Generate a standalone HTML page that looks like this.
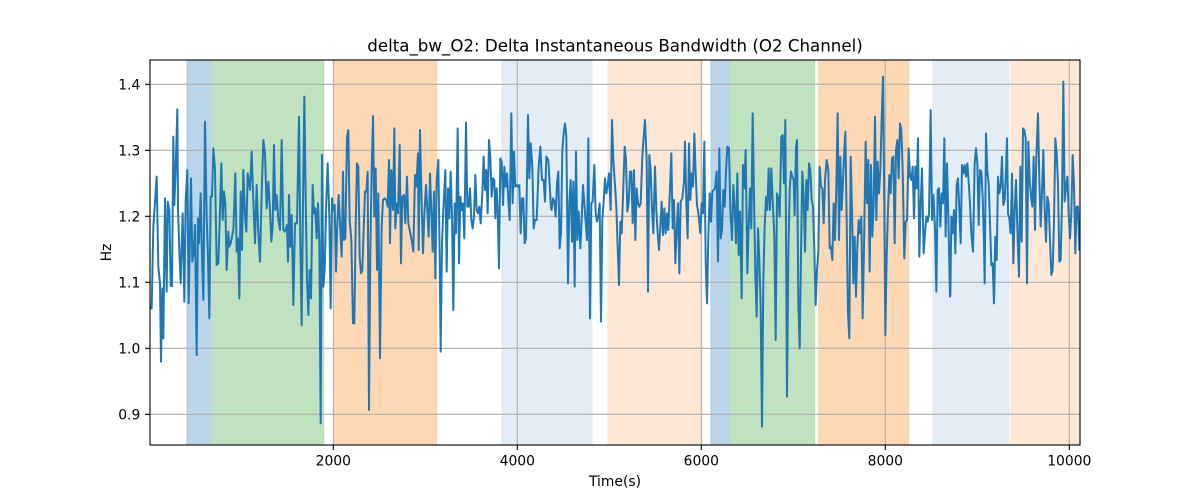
<!DOCTYPE html>
<html>
<head>
<meta charset="utf-8">
<style>
  html, body { margin: 0; padding: 0; background: #ffffff; }
  svg { display: block; }
  text { font-family: "DejaVu Sans", "Liberation Sans", sans-serif; fill: #000; }
</style>
</head>
<body>
<svg width="1200" height="500" viewBox="0 0 1200 500" xmlns="http://www.w3.org/2000/svg">
  <rect x="0" y="0" width="1200" height="500" fill="#ffffff"/>
  <defs>
    <clipPath id="ax">
      <rect x="150" y="60" width="930" height="385"/>
    </clipPath>
  </defs>

  <!-- spans -->
  <g>
    <rect x="187" y="60" width="23.7" height="385" fill="#bad4e9" stroke="#aecde6" stroke-width="1"/>
    <rect x="212" y="60" width="111.7" height="385" fill="#c0e2c0" stroke="#b2dcb2" stroke-width="1"/>
    <rect x="333.7" y="60" width="103" height="385" fill="#fed8b5" stroke="#fdd0a6" stroke-width="1"/>
    <rect x="502" y="60" width="90" height="385" fill="#e4ecf6" stroke="#dde8f3" stroke-width="1"/>
    <rect x="608" y="60" width="94" height="385" fill="#fee8d5" stroke="#fde3cc" stroke-width="1"/>
    <rect x="711" y="60" width="18.7" height="385" fill="#bad4e9" stroke="#aecde6" stroke-width="1"/>
    <rect x="731" y="60" width="83.7" height="385" fill="#c0e2c0" stroke="#b2dcb2" stroke-width="1"/>
    <rect x="818.7" y="60" width="90" height="385" fill="#fed8b5" stroke="#fdd0a6" stroke-width="1"/>
    <rect x="933" y="60" width="76" height="385" fill="#e4ecf6" stroke="#dde8f3" stroke-width="1"/>
    <rect x="1011" y="60" width="69" height="385" fill="#fee8d5" stroke="#fde3cc" stroke-width="1"/>
  </g>

  <!-- grid -->
  <g stroke="#b0b0b0" stroke-width="1.1">
    <line x1="333.3" y1="60" x2="333.3" y2="445"/>
    <line x1="517.3" y1="60" x2="517.3" y2="445"/>
    <line x1="701.3" y1="60" x2="701.3" y2="445"/>
    <line x1="885.3" y1="60" x2="885.3" y2="445"/>
    <line x1="1069.3" y1="60" x2="1069.3" y2="445"/>
    <line x1="150" y1="84.3" x2="1080" y2="84.3"/>
    <line x1="150" y1="150.3" x2="1080" y2="150.3"/>
    <line x1="150" y1="216.3" x2="1080" y2="216.3"/>
    <line x1="150" y1="282.3" x2="1080" y2="282.3"/>
    <line x1="150" y1="348.3" x2="1080" y2="348.3"/>
    <line x1="150" y1="414.3" x2="1080" y2="414.3"/>
  </g>

  <!-- data line -->
  <g clip-path="url(#ax)">
    <g transform="translate(150,70) scale(0.3333333)">
      <polyline vector-effect="non-scaling-stroke" fill="none" stroke="#1f77b4" stroke-width="2" stroke-linejoin="round" stroke-linecap="butt"
        points="0,715 5,715 10,470 20,320 25,590 30,640 33,875 37,655 40,805 45,385 50,665 53,395 58,420 62,648 66,648 70,200 73,405 77,300 82,118 84,420 88,540 92,640 98,430 103,695 107,390 112,300 116,700 123,325 127,575 131,550 135,465 140,855 144,445 147,520 152,370 156,560 160,690 165,155 170,440 174,560 178,745 182,380 186,380 190,235 195,300 200,585 205,580 210,420 214,280 218,450 222,365 226,400 230,600 235,485 238,530 242,520 246,500 250,480 256,310 260,545 264,505 268,685 272,365 276,540 280,300 285,435 289,485 293,310 297,340 300,360 305,245 310,390 315,520 320,345 325,490 330,575 335,370 340,210 345,250 350,415 355,335 360,420 364,515 368,470 372,225 376,420 380,375 385,450 390,480 395,210 400,480 404,485
407,480 411,465 414,575 417,375 421,530 425,435 430,705 435,460 441,460 447,140 451,520 455,765 459,400 463,80 467,380 471,630 475,735 479,600 483,685 488,345 492,430 496,415 500,505 504,400 508,520 512,1060 516,255 520,650 524,600 529,390 533,280 538,440 542,715 546,385 550,420 554,405 558,605 562,460 566,375 571,480 575,560 579,305 582,510 586,505 591,200 595,180 599,450 604,510 609,760 613,760 617,470 621,280 625,290 629,560 633,610 637,600 641,480 645,365 649,365 653,305 657,1020 661,540 665,300 669,138 673,440 677,295 681,600 685,370 690,865 695,470 699,390 704,385 709,390 713,410 717,270 720,520 724,300 729,420 733,175 736,475 740,400 744,430 749,225 753,580 757,380 762,375 766,460 771,320 775,460 779,480 785,510 790,545 795,315 799,350 804,250
806,540 810,180 814,360 819,550 823,435 828,345 832,420 836,500 840,310 844,420 848,545 852,365 856,625 860,330 865,270 869,560 872,845 876,520 880,420 886,300 890,605 894,355 898,445 902,305 906,440 910,720 914,400 918,490 923,175 927,580 931,380 935,420 939,400 943,505 948,158 952,410 956,410 960,355 964,450 968,475 972,440 976,315 980,420 984,430 988,410 992,460 997,370 1001,260 1005,360 1009,300 1013,430 1017,210 1021,260 1025,380 1029,325 1033,330 1036,445 1040,355 1043,420 1047,595 1051,265 1055,275 1059,405 1063,290 1067,350 1071,310 1075,390 1079,450 1084,130 1088,400 1092,245 1096,350 1100,345 1104,350 1108,345 1112,490 1116,385 1120,385 1124,520 1128,505 1134,135 1138,325 1142,220 1147,290 1151,475 1155,450 1160,450 1166,290 1171,230 1176,330 1181,330 1185,395 1189,260 1195,270 1203,415
1205,420 1209,385 1213,395 1217,440 1221,340 1225,305 1229,535 1233,490 1237,240 1241,190 1245,160 1249,200 1254,640 1258,400 1262,330 1266,515 1270,335 1274,650 1278,245 1282,510 1286,425 1291,535 1295,450 1299,345 1303,400 1307,455 1311,510 1315,205 1320,745 1324,400 1328,395 1333,285 1337,430 1341,455 1345,435 1349,400 1353,755 1357,450 1361,395 1365,325 1369,370 1373,345 1377,310 1382,420 1386,150 1390,270 1394,330 1399,410 1403,530 1407,645 1411,455 1415,490 1419,380 1424,230 1428,270 1432,425 1436,400 1440,305 1444,305 1448,460 1452,300 1456,510 1460,355 1464,400 1468,410 1472,400 1477,260 1481,200 1485,150 1490,270 1494,665 1498,255 1502,300 1506,420 1510,490 1515,290 1519,420 1523,490 1527,540 1531,470 1535,395 1539,495 1543,415 1547,490 1551,430 1555,480 1559,380 1564,250 1568,475 1572,390 1576,580 1580,480 1584,400 1588,610 1592,395 1597,385 1602,335
1605,215 1609,400 1613,505 1617,220 1621,390 1625,310 1629,350 1633,190 1637,310 1641,405 1646,435 1651,490 1655,400 1659,430 1663,215 1667,570 1671,700 1675,500 1679,370 1683,455 1687,365 1691,360 1695,355 1700,305 1704,575 1708,235 1712,505 1716,480 1720,360 1724,410 1728,305 1732,230 1737,235 1741,420 1746,510 1750,345 1754,410 1758,520 1762,310 1766,555 1770,425 1775,685 1779,285 1783,355 1787,240 1792,610 1796,470 1800,355 1804,475 1808,130 1812,380 1816,615 1820,740 1824,475 1828,570 1832,710 1836,1070 1840,630 1844,470 1848,380 1852,420 1856,295 1860,420 1864,295 1868,390 1873,500 1877,810 1881,370 1885,385 1889,440 1894,200 1898,195 1902,340 1906,150 1911,980 1915,550 1919,360 1923,305 1927,320 1931,330 1934,435 1938,230 1941,210 1945,700 1949,835 1953,550 1957,305 1961,380 1965,545 1969,330 1973,420 1977,280 1981,300 1985,390 1989,410 1993,540 1997,705 2001,600
2005,545 2009,290 2013,350 2017,355 2021,460 2025,330 2030,270 2035,300 2039,535 2043,530 2047,570 2051,400 2055,510 2059,350 2063,130 2067,510 2071,260 2075,420 2079,330 2083,240 2086,185 2090,450 2094,730 2098,805 2102,260 2106,420 2110,640 2114,500 2118,680 2122,530 2126,450 2130,490 2134,440 2138,745 2142,530 2147,215 2151,400 2155,270 2159,605 2163,285 2167,500 2171,405 2175,140 2179,450 2183,275 2187,370 2191,300 2195,150 2199,20 2203,420 2206,795 2210,560 2214,420 2218,315 2222,370 2226,265 2230,260 2234,520 2238,240 2242,210 2246,325 2250,160 2254,180 2258,300 2263,565 2267,455 2271,450 2276,235 2280,320 2284,330 2288,290 2292,445 2296,290 2300,355 2304,205 2308,560 2312,405 2316,295 2321,550 2325,490 2329,440 2333,455 2337,430 2342,120 2346,450 2350,375 2355,475 2359,665 2363,360 2367,355 2371,470 2375,370 2379,400 2383,205 2387,500 2391,280 2395,440 2400,680
2401,675 2404,440 2408,490 2412,420 2416,550 2420,345 2424,325 2428,420 2432,520 2436,285 2440,310 2444,285 2448,320 2452,280 2456,335 2460,400 2464,490 2469,545 2474,280 2478,235 2482,280 2486,465 2490,300 2494,305 2498,380 2502,520 2504,640 2508,190 2512,305 2516,340 2520,460 2524,585 2528,580 2532,700 2536,500 2540,570 2544,320 2548,370 2552,350 2556,260 2560,405 2564,390 2568,300 2571,205 2574,430 2578,445 2582,490 2586,310 2590,580 2594,420 2598,330 2603,510 2607,620 2611,290 2615,515 2619,175 2623,180 2627,205 2631,640 2635,215 2639,330 2643,380 2647,410 2651,260 2655,480 2659,260 2664,130 2668,330 2672,470 2676,365 2680,240 2684,420 2688,515 2692,380 2696,400 2700,510 2704,615 2708,600 2712,455 2716,205 2720,250 2724,340 2728,575 2732,570 2736,400 2740,35 2744,395 2748,350 2752,320 2756,430 2760,505 2764,430 2768,255 2772,345 2776,550 2780,410 2784,410 2788,540 2793,500"/>
    </g>
  </g>

  <!-- spines -->
  <rect x="150" y="60" width="930" height="385" fill="none" stroke="#000" stroke-width="1.1"/>

  <!-- ticks -->
  <g stroke="#000" stroke-width="1.1">
    <line x1="333.3" y1="445" x2="333.3" y2="449.9"/>
    <line x1="517.3" y1="445" x2="517.3" y2="449.9"/>
    <line x1="701.3" y1="445" x2="701.3" y2="449.9"/>
    <line x1="885.3" y1="445" x2="885.3" y2="449.9"/>
    <line x1="1069.3" y1="445" x2="1069.3" y2="449.9"/>
    <line x1="145.1" y1="84.3" x2="150" y2="84.3"/>
    <line x1="145.1" y1="150.3" x2="150" y2="150.3"/>
    <line x1="145.1" y1="216.3" x2="150" y2="216.3"/>
    <line x1="145.1" y1="282.3" x2="150" y2="282.3"/>
    <line x1="145.1" y1="348.3" x2="150" y2="348.3"/>
    <line x1="145.1" y1="414.3" x2="150" y2="414.3"/>
  </g>

  <!-- tick labels -->
  <g font-size="13.89" text-anchor="middle">
    <text x="333.3" y="465.3">2000</text>
    <text x="517.3" y="465.3">4000</text>
    <text x="701.3" y="465.3">6000</text>
    <text x="885.3" y="465.3">8000</text>
    <text x="1069.3" y="465.3">10000</text>
  </g>
  <g font-size="13.89" text-anchor="end">
    <text x="140.3" y="89.5">1.4</text>
    <text x="140.3" y="155.5">1.3</text>
    <text x="140.3" y="221.5">1.2</text>
    <text x="140.3" y="287.5">1.1</text>
    <text x="140.3" y="353.5">1.0</text>
    <text x="140.3" y="419.5">0.9</text>
  </g>

  <!-- axis labels & title -->
  <text x="615" y="486" font-size="13.89" text-anchor="middle">Time(s)</text>
  <text transform="translate(111,252.5) rotate(-90)" font-size="13.89" text-anchor="middle">Hz</text>
  <text x="615" y="51.7" font-size="16.67" text-anchor="middle">delta_bw_O2: Delta Instantaneous Bandwidth (O2 Channel)</text>
</svg>
</body>
</html>
